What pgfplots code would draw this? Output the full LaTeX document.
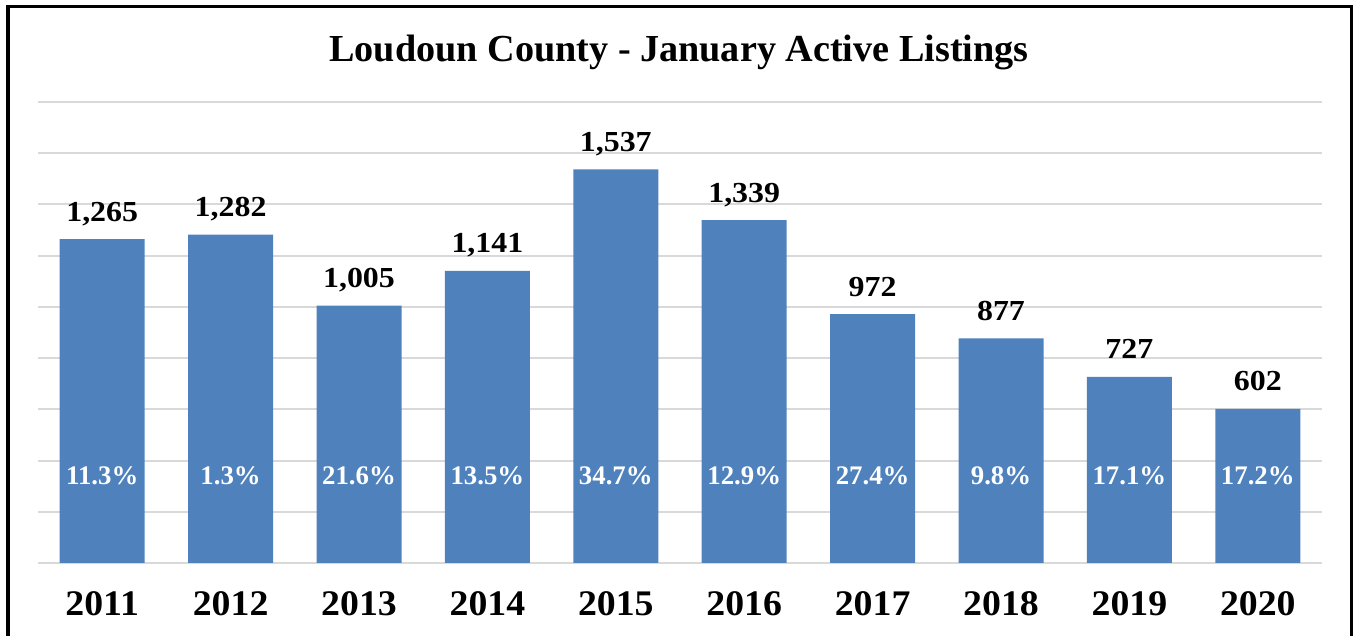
\documentclass[border=0pt]{standalone}
\usepackage{pgfplots}
\pgfplotsset{compat=1.18}
\usepackage{fontspec}
\setmainfont{Liberation Serif}
\newfontfamily\numfont[FakeStretch=1.1]{Liberation Serif}
\newfontfamily\yearfont[FakeStretch=1.05]{Liberation Serif}
\definecolor{barblue}{HTML}{4F81BD}
\definecolor{gridgray}{HTML}{D9D9D9}
\begin{document}
\begin{tikzpicture}[x=1pt,y=1pt]
\path[use as bounding box] (0,0) rectangle (677,318);
\draw[line width=1.75pt] (4,-5) -- (4,314.75) -- (675.75,314.75) -- (675.75,-5);
\node[font=\bfseries\fontsize{19.1}{22}\selectfont, anchor=base] at (339.5,287) {Loudoun County - January Active Listings};
\begin{axis}[
  at={(19pt,36.5pt)}, anchor=south west,
  scale only axis, width=642pt, height=230.5pt,
  xmin=-0.5, xmax=9.5, ymin=0, ymax=1800,
  ybar, bar width=42.5pt,
  axis line style={draw=none},
  tick style={draw=none},
  ytick={0,200,...,1800}, yticklabels={},
  ymajorgrids=true, xmajorgrids=false,
  grid style={gridgray, line width=1pt},
  xtick={0,...,9},
  xticklabels={2011,2012,2013,2014,2015,2016,2017,2018,2019,2020},
  xticklabel style={anchor=base, yshift=-22pt, font=\yearfont\bfseries\fontsize{18}{20}\selectfont},
  nodes near coords,
  every node near coord/.append style={anchor=base, yshift=9pt, font=\numfont\bfseries\fontsize{14.5}{16}\selectfont, text=black},
  /pgf/number format/.cd, 1000 sep={,}, assume math mode=true,
  /pgfplots/.cd,
  clip=false,
]
\addplot[fill=barblue, draw=none] coordinates {(0,1265) (1,1282) (2,1005) (3,1141) (4,1537) (5,1339) (6,972) (7,877) (8,727) (9,602)};
\tikzset{pct/.style={anchor=base, yshift=39pt, text=white, font=\bfseries\fontsize{13.4}{16}\selectfont}}
\node[pct] at (axis cs:0,0) {11.3\%};
\node[pct] at (axis cs:1,0) {1.3\%};
\node[pct] at (axis cs:2,0) {21.6\%};
\node[pct] at (axis cs:3,0) {13.5\%};
\node[pct] at (axis cs:4,0) {34.7\%};
\node[pct] at (axis cs:5,0) {12.9\%};
\node[pct] at (axis cs:6,0) {27.4\%};
\node[pct] at (axis cs:7,0) {9.8\%};
\node[pct] at (axis cs:8,0) {17.1\%};
\node[pct] at (axis cs:9,0) {17.2\%};
\end{axis}
\end{tikzpicture}
\end{document}
